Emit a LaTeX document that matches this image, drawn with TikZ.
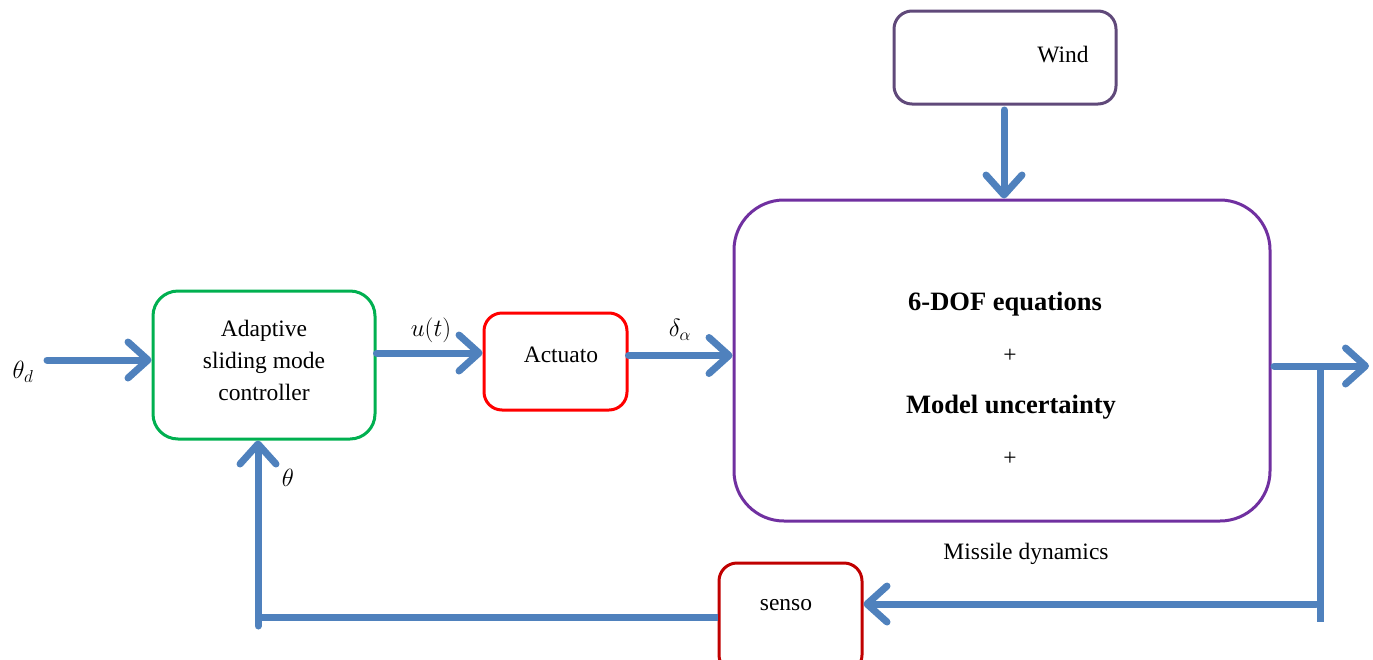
\documentclass[tikz,border=0pt]{standalone}
\usepackage{fontspec}
\setmainfont{Liberation Serif}
\usetikzlibrary{arrows.meta}
\definecolor{flowblue}{RGB}{79,129,189}
\definecolor{ctrlgreen}{RGB}{0,176,80}
\definecolor{actred}{RGB}{255,0,0}
\definecolor{plantpurple}{RGB}{112,48,160}
\definecolor{windpurple}{RGB}{96,73,122}
\definecolor{sensred}{RGB}{192,0,0}
\tikzset{
  blockbox/.style={draw, line width=3pt, rounded corners=#1, inner sep=0pt},
  flowline/.style={draw=flowblue, line width=7pt},
  flowarrow/.style={flowline, line cap=round, -{Straight Barb[length=20pt,width=36pt,round]}},
  lbl/.style={inner sep=0pt, align=center, font=\fontsize{23.5}{32}\selectfont},
  mlbl/.style={inner sep=0pt, font=\fontsize{26}{30}\selectfont},
  bold/.style={inner sep=0pt, font=\fontsize{26.5}{30}\selectfont\bfseries}
}
\begin{document}
\begin{tikzpicture}[x=1pt,y=-1pt]
\useasboundingbox (0,0) rectangle (1373,659);
% blocks
\node[blockbox=25pt, draw=ctrlgreen, minimum width=222pt, minimum height=148pt] (ctrl) at (264,365) {};
\node[lbl] (ctrltxt) at (264,360) {Adaptive\\sliding mode\\controller};
\node[blockbox=18pt, draw=actred, minimum width=143pt, minimum height=97pt] (act) at (555.5,361.5) {};
\node[lbl] (acttxt) at (561,355) {Actuato};
\node[blockbox=50pt, draw=plantpurple, minimum width=536pt, minimum height=321pt] (plant) at (1002,360.5) {};
\node[blockbox=18pt, draw=windpurple, minimum width=222pt, minimum height=93pt] (wind) at (1005,57.5) {};
\node[lbl] (windtxt) at (1063,55) {Wind};
\node[blockbox=18pt, draw=sensred, minimum width=143pt, minimum height=110pt] (sens) at (790.5,618) {};
\node[lbl] (senstxt) at (786,605) {senso};
% plant text
\node[bold] (eq1) at (1005,304) {6-DOF equations};
\node[lbl] (plus1) at (1010,356) {+};
\node[bold] (eq2) at (1011,407) {Model uncertainty};
\node[lbl] (plus2) at (1010,459) {+};
\node[lbl] (mdyn) at (1026,554) {Missile dynamics};
% labels
\node[mlbl] (thd) at (23,372) {$\theta_d$};
\node[mlbl] (ut) at (431,330) {$u(t)$};
\node[mlbl] (da) at (680,330) {$\delta_\alpha$};
\node[mlbl] (th) at (288,478) {$\theta$};
% coordinates
\coordinate (in) at (47,360);
\coordinate (outA) at (1274,366);
\coordinate (outB) at (1369,366);
\coordinate (jt) at (1320,366);
\coordinate (jb) at (1320,622);
\coordinate (sr) at (1316,604);
\coordinate (fbL) at (258,617);
\coordinate (fbB) at (258,626);
\coordinate (windtop) at (1004,110);
% connectors
\draw[flowarrow] (in) -- (in -| ctrl.west);
\draw[flowarrow] ([yshift=12pt]ctrl.east) -- ([yshift=12pt]ctrl.east -| act.west);
\draw[flowarrow] ([yshift=6pt]act.east) -- ([yshift=6pt]act.east -| plant.west);
\draw[flowarrow] (windtop) -- (windtop |- plant.north);
\draw[flowarrow] (outA) -- (outB);
\draw[flowline] (jt) -- (jb);
\draw[flowarrow] (sr) -- (sr -| sens.east);
\draw[flowline] (fbL -| sens.west) -- (fbL);
\draw[flowarrow] (fbB) -- (fbB |- ctrl.south);
\end{tikzpicture}
\end{document}
